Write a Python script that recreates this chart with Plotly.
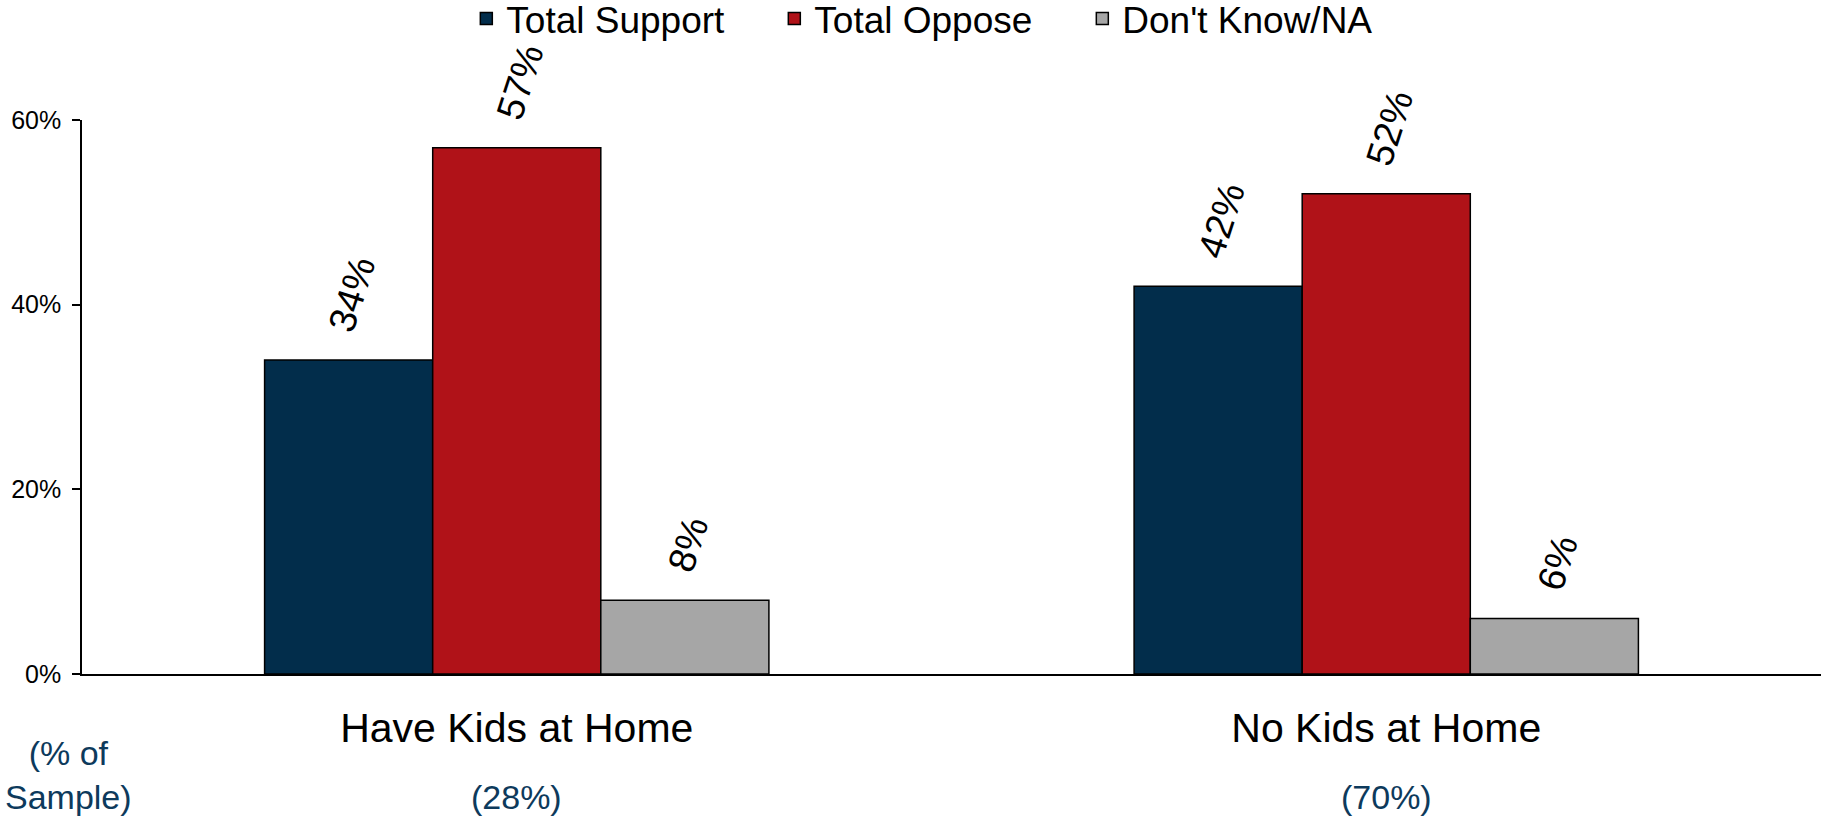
import plotly.graph_objects as go

# Survey results by household type
categories = ["Have Kids at Home", "No Kids at Home"]
sample_share = ["(28%)", "(70%)"]
series_names = ["Total Support", "Total Oppose", "Don't Know/NA"]
support = [34, 42]
oppose = [57, 52]
dont_know = [8, 6]
series_colors = ["#022d4b", "#b01218", "#a6a6a6"]

series_values = [support, oppose, dont_know]

FONT = "Liberation Sans, Arial, sans-serif"
W, H = 1825, 818
M_T, M_B = 120, 144
PLOT_H = H - M_T - M_B

fig = go.Figure()
for name, vals, color in zip(series_names, series_values, series_colors):
    fig.add_trace(go.Bar(
        name=name,
        x=categories,
        y=vals,
        marker=dict(color=color, line=dict(color="#000000", width=1.5)),
        text=[f"{v}%" for v in vals],
        texttemplate="\u00a0\u00a0%{text}",
        textposition="outside",
        textangle=-72,
        constraintext="none",
        cliponaxis=False,
        textfont=dict(family=FONT, size=38, color="#000000"),
    ))

# Sample share under each category
for cat, share in zip(categories, sample_share):
    fig.add_annotation(
        x=cat, xref="x", y=-123 / PLOT_H, yref="paper",
        text=share, showarrow=False,
        font=dict(family=FONT, size=34, color="#0d3a5c"),
        xanchor="center", yanchor="middle",
    )

fig.add_annotation(
    x=-0.0075, xref="paper", y=-101 / PLOT_H, yref="paper",
    text="(% of<br>Sample)", showarrow=False, align="center",
    font=dict(family=FONT, size=34, color="#0d3a5c"),
    xanchor="center", yanchor="middle",
)

fig.update_layout(
    width=W, height=H,
    margin=dict(l=82, r=4, t=M_T, b=M_B, autoexpand=False),
    paper_bgcolor="#ffffff",
    plot_bgcolor="#ffffff",
    barmode="group",
    bargap=0.42,
    bargroupgap=0,
    showlegend=True,
    legend=dict(
        orientation="h",
        x=0.221, xanchor="left",
        y=1 + (M_T + 12) / PLOT_H, yanchor="top",
        entrywidth=263, entrywidthmode="pixels",
        font=dict(family=FONT, size=37, color="#000000"),
        bgcolor="rgba(0,0,0,0)",
    ),
    font=dict(family=FONT),
)

fig.update_yaxes(
    range=[0, 60],
    tickvals=[0, 20, 40, 60],
    ticktext=["0%", "20%", "40%", "60%"],
    showgrid=False, zeroline=False,
    showline=True, linecolor="#000000", linewidth=1.5,
    ticks="outside", ticklen=8, tickcolor="#000000", tickwidth=1.5,
    ticklabelstandoff=6,
    tickfont=dict(family=FONT, size=25, color="#000000"),
)
fig.update_xaxes(
    showgrid=False, zeroline=False,
    showline=True, linecolor="#000000", linewidth=1.5,
    ticks="",
    ticklabelstandoff=17,
    tickfont=dict(family=FONT, size=41, color="#000000"),
)

fig.write_html("out.html")
